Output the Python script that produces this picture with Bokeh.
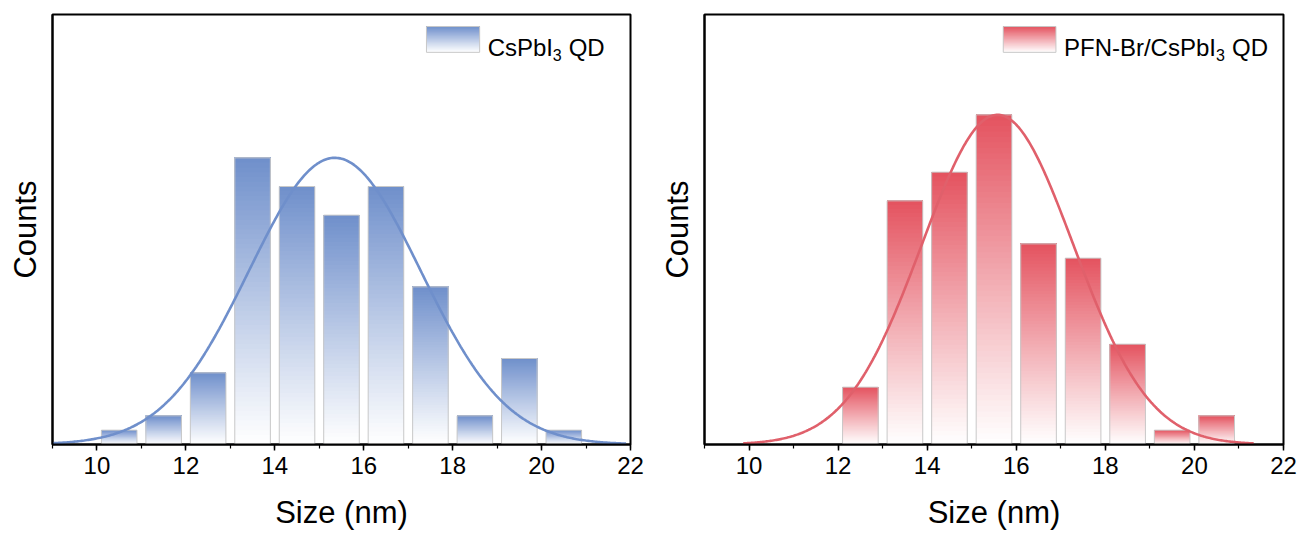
import numpy as np
from bokeh.plotting import figure
from bokeh.layouts import row
from bokeh.models import ColumnDataSource, SingleIntervalTicker, FixedTicker, Range1d
from bokeh.core.properties import value
from bokeh.embed import file_html
from bokeh.resources import INLINE

# ---------------- data ----------------
x_ticks = [10, 12, 14, 16, 18, 20, 22]

sizes_a = [10.5, 11.5, 12.5, 13.5, 14.5, 15.5, 16.5, 17.5, 18.5, 19.5, 20.5]
counts_a = [1, 2, 5, 20, 18, 16, 18, 11, 2, 6, 1]
label_a = ["CsPbI", "3", "QD"]
fit_mean_a, fit_sigma_a, fit_peak_a = 15.35, 1.93, 20.0
fit_range_a = [9.0, 21.9]

sizes_b = [12.5, 13.5, 14.5, 15.5, 16.5, 17.5, 18.5, 19.5, 20.5]
counts_b = [4, 17, 19, 23, 14, 13, 7, 1, 2]
label_b = ["PFN-Br/CsPbI", "3", "QD"]
fit_mean_b, fit_sigma_b, fit_peak_b = 15.58, 1.70, 23.0
fit_range_b = [9.87, 21.33]

FONT = "Liberation Sans"
X0, X1, Y0, Y1 = 9.0, 22.0, 0.0, 30.0
BAR_W = 0.8
NSLICE = 60


def mix(base, a):
    r, g, b = base
    return "#%02x%02x%02x" % tuple(int(round(255 * (1 - a) + c * a)) for c in (r, g, b))


def gradient_source(centers, heights, base, y_base=0.0, x_half=BAR_W / 2):
    # each slice spans from its own lower edge up to the bar top; drawn bottom-first,
    # so later slices overlay earlier ones without seams
    L, R, B, T, C = [], [], [], [], []
    for c, h in zip(centers, heights):
        for k in range(NSLICE):
            L.append(c - x_half)
            R.append(c + x_half)
            B.append(y_base + h * k / NSLICE)
            T.append(y_base + h)
            C.append(mix(base, ((k + 0.5) / NSLICE) ** 1.05))
    return ColumnDataSource(dict(left=L, right=R, bottom=B, top=T, color=C))


def panel(sizes, counts, fit_mean, fit_sigma, fit_peak, fit_range, base, line_color,
          label, leg_fx, width, border_left, border_right, sub_off, qd_off):
    p = figure(width=width, height=535, output_backend="svg", toolbar_location=None,
               x_range=Range1d(X0, X1), y_range=Range1d(Y0, Y1),
               min_border_left=border_left, min_border_right=border_right,
               min_border_top=14, min_border_bottom=91)
    p.background_fill_color = "white"
    p.border_fill_color = "white"
    p.grid.visible = False
    p.outline_line_color = "black"
    p.outline_line_width = 2

    # bars with vertical gradient
    src = gradient_source(sizes, counts, base)
    p.quad(left="left", right="right", bottom="bottom", top="top", fill_color="color",
           line_color=None, source=src)
    p.quad(left=[s - BAR_W / 2 for s in sizes], right=[s + BAR_W / 2 for s in sizes],
           bottom=0, top=counts, fill_color=None, line_color="#c8c8c8", line_width=1)

    # gaussian fit
    xs = np.linspace(fit_range[0], fit_range[1], 400)
    ys = fit_peak * np.exp(-((xs - fit_mean) ** 2) / (2 * fit_sigma ** 2))
    p.line(xs, ys, line_color=line_color, line_width=2.6)

    # legend (manual)
    fx0, fx1 = leg_fx
    lx0 = X0 + fx0 * (X1 - X0)
    lx1 = X0 + fx1 * (X1 - X0)
    ly1 = Y1 * 0.972
    ly0 = Y1 * 0.912
    lsrc = gradient_source([(lx0 + lx1) / 2], [ly1 - ly0], base, y_base=ly0,
                           x_half=(lx1 - lx0) / 2)
    p.quad(left="left", right="right", bottom="bottom", top="top", fill_color="color",
           line_color=None, source=lsrc)
    p.quad(left=[lx0], right=[lx1], bottom=[ly0], top=[ly1], fill_color=None,
           line_color="#c8c8c8", line_width=1)
    tx = lx1 + 8 / 44.5
    p.text(x=[tx], y=[Y1 * 0.924], text=[label[0]], text_font=value(FONT),
           text_font_size="24px", text_baseline="alphabetic", text_align="left",
           text_color="black")
    p.text(x=[tx], y=[Y1 * 0.906], text=[label[1]], x_offset=sub_off, text_font=value(FONT),
           text_font_size="16px", text_baseline="alphabetic", text_align="left",
           text_color="black")
    p.text(x=[tx], y=[Y1 * 0.924], text=[label[2]], x_offset=qd_off, text_font=value(FONT),
           text_font_size="24px", text_baseline="alphabetic", text_align="left",
           text_color="black")

    # axes
    xa = p.xaxis[0]
    xa.ticker = SingleIntervalTicker(interval=2, num_minor_ticks=2)
    xa.axis_line_color = "black"
    xa.axis_line_width = 2
    xa.major_tick_line_color = "black"
    xa.major_tick_line_width = 1.5
    xa.major_tick_in = 0
    xa.major_tick_out = 6
    xa.minor_tick_line_color = "black"
    xa.minor_tick_line_width = 1.2
    xa.minor_tick_in = 0
    xa.minor_tick_out = 4
    xa.major_label_text_font = FONT
    xa.major_label_text_font_size = "24px"
    xa.major_label_text_color = "black"
    xa.major_label_standoff = 6
    xa.axis_label = "Size (nm)"
    xa.axis_label_text_font = FONT
    xa.axis_label_text_font_size = "31px"
    xa.axis_label_text_font_style = "normal"
    xa.axis_label_text_color = "black"
    xa.axis_label_standoff = 18

    ya = p.yaxis[0]
    ya.ticker = FixedTicker(ticks=[])
    ya.axis_line_color = "black"
    ya.axis_line_width = 2
    ya.major_tick_line_color = None
    ya.minor_tick_line_color = None
    ya.axis_label = "Counts"
    ya.axis_label_text_font = FONT
    ya.axis_label_text_font_size = "31px"
    ya.axis_label_text_font_style = "normal"
    ya.axis_label_text_color = "black"
    ya.axis_label_standoff = 10
    return p


blue = (111, 143, 203)
red = (228, 82, 95)
p1 = panel(sizes_a, counts_a, fit_mean_a, fit_sigma_a, fit_peak_a, fit_range_a, blue, "#6f8fcb",
           label_a, (0.647, 0.739), 652, 52, 22, 65, 81)
p2 = panel(sizes_b, counts_b, fit_mean_b, fit_sigma_b, fit_peak_b, fit_range_b, red, "#e0606b",
           label_b, (0.516, 0.607), 651, 52, 20, 152, 168)

layout = row(p1, p2)
open("out.html", "w").write(file_html(layout, INLINE))
